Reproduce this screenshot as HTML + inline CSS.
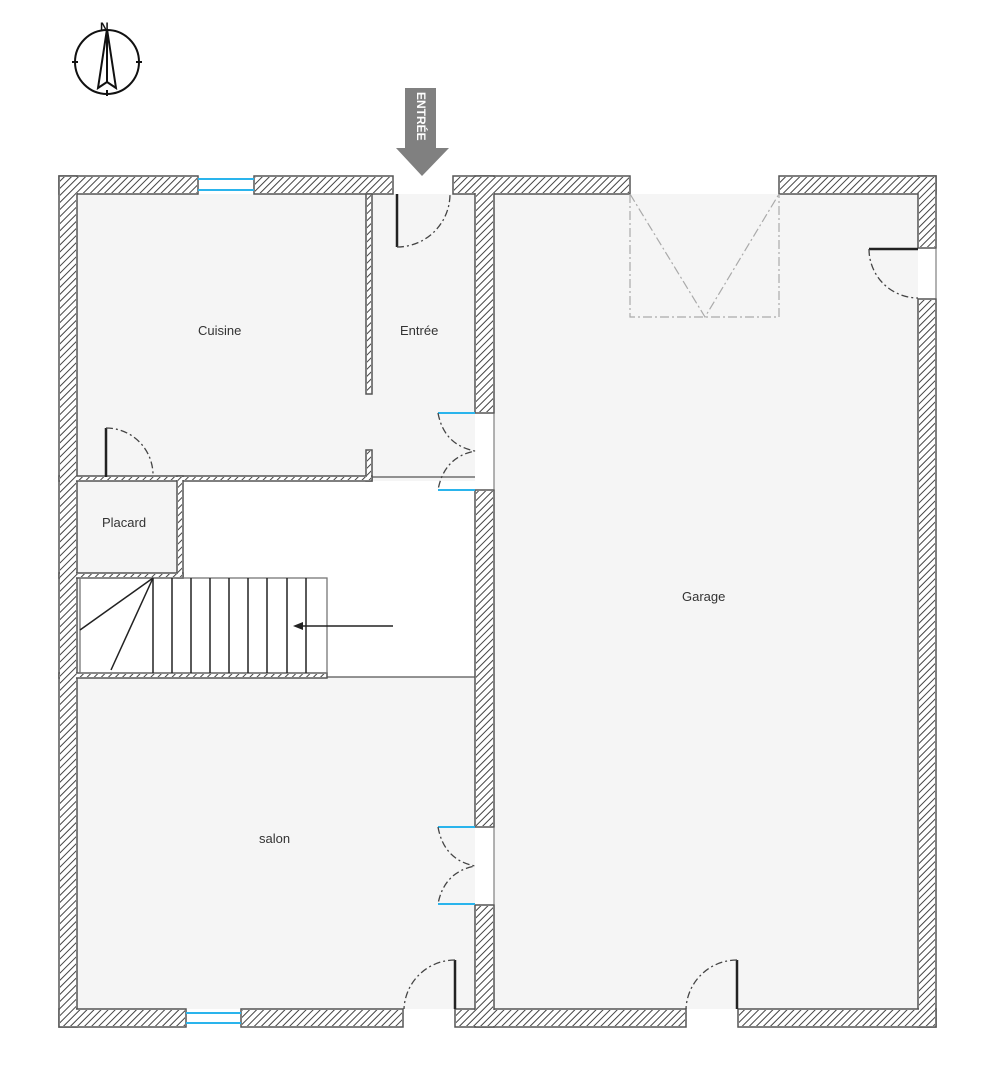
<!DOCTYPE html>
<html><head><meta charset="utf-8"><style>
html,body{margin:0;padding:0;background:#fff;}
svg{display:block;}
text{font-family:"Liberation Sans",sans-serif;font-size:13px;fill:#333;}
</style></head><body>
<svg width="1002" height="1080" viewBox="0 0 1002 1080" xmlns="http://www.w3.org/2000/svg">
<defs>
<pattern id="h" patternUnits="userSpaceOnUse" width="5" height="5" patternTransform="rotate(45)">
<rect width="5" height="5" fill="#fff"/>
<line x1="0" y1="0" x2="0" y2="5" stroke="#444" stroke-width="2"/>
</pattern>
<g id="walls">
<rect x="59" y="176" width="139" height="18"/>
<rect x="254" y="176" width="139" height="18"/>
<rect x="453" y="176" width="177" height="18"/>
<rect x="779" y="176" width="157" height="18"/>
<rect x="59" y="176" width="18" height="851"/>
<rect x="918" y="176" width="18" height="72"/>
<rect x="918" y="299" width="18" height="728"/>
<rect x="59" y="1009" width="127" height="18"/>
<rect x="241" y="1009" width="162" height="18"/>
<rect x="455" y="1009" width="231" height="18"/>
<rect x="738" y="1009" width="198" height="18"/>
<rect x="475" y="176" width="19" height="237"/>
<rect x="475" y="490" width="19" height="337"/>
<rect x="475" y="905" width="19" height="122"/>
<rect x="366" y="194" width="6" height="200"/>
<rect x="366" y="450" width="6" height="31"/>
<rect x="59" y="476" width="313" height="5"/>
<rect x="177" y="476" width="6" height="102"/>
<rect x="59" y="573" width="124" height="5"/>
<rect x="59" y="673" width="268" height="5"/>
</g>
</defs>
<!-- floors -->
<rect x="77" y="194" width="398" height="815" fill="#f5f5f5"/>
<rect x="494" y="194" width="424" height="815" fill="#f5f5f5"/>
<rect x="183" y="481" width="292" height="196" fill="#fff"/>
<rect x="80" y="578" width="247" height="95" fill="#fff"/>

<use href="#walls" stroke="#555" stroke-width="1.5" fill="#fff"/>
<g fill="url(#h)">
<rect x="60" y="177" width="137" height="16"/>
<rect x="255" y="177" width="137" height="16"/>
<rect x="454" y="177" width="175" height="16"/>
<rect x="780" y="177" width="155" height="16"/>
<rect x="60" y="177" width="16" height="849"/>
<rect x="919" y="177" width="16" height="70"/>
<rect x="919" y="300" width="16" height="726"/>
<rect x="60" y="1010" width="125" height="16"/>
<rect x="242" y="1010" width="160" height="16"/>
<rect x="456" y="1010" width="229" height="16"/>
<rect x="739" y="1010" width="196" height="16"/>
<rect x="476" y="177" width="17" height="235"/>
<rect x="476" y="491" width="17" height="335"/>
<rect x="476" y="906" width="17" height="120"/>
<rect x="367" y="195" width="4" height="198"/>
<rect x="367" y="451" width="4" height="29"/>
<rect x="60" y="477" width="311" height="3"/>
<rect x="178" y="477" width="4" height="100"/>
<rect x="60" y="574" width="122" height="3"/>
<rect x="60" y="674" width="266" height="3"/>
</g>
<!-- door openings white -->
<rect x="394" y="177" width="58" height="17" fill="#fff"/>
<rect x="631" y="177" width="147" height="17" fill="#fff"/>
<rect x="476" y="414" width="17" height="75" fill="#fff"/>
<rect x="476" y="828" width="17" height="76" fill="#fff"/>
<rect x="919" y="249" width="17" height="49" fill="#fff"/>
<rect x="404" y="1010" width="50" height="17" fill="#fff"/>
<rect x="687" y="1010" width="50" height="17" fill="#fff"/>
<g stroke="#666" stroke-width="1" fill="none">
<line x1="494" y1="413" x2="494" y2="490"/>
<line x1="494" y1="827" x2="494" y2="905"/>
<line x1="936" y1="248" x2="936" y2="299"/>
</g>
<!-- windows -->
<g stroke="#2ab4ec" stroke-width="2">
<line x1="198" y1="179" x2="254" y2="179"/>
<line x1="198" y1="190" x2="254" y2="190"/>
<line x1="186" y1="1013" x2="241" y2="1013"/>
<line x1="186" y1="1023" x2="241" y2="1023"/>
<line x1="438" y1="413" x2="475" y2="413"/>
<line x1="438" y1="490" x2="475" y2="490"/>
<line x1="438" y1="827" x2="475" y2="827"/>
<line x1="438" y1="904" x2="475" y2="904"/>
</g>
<!-- thin lines -->
<g stroke="#555" stroke-width="1.3" fill="none">
<line x1="372" y1="477" x2="475" y2="477"/>
<line x1="327" y1="677" x2="475" y2="677"/>
<rect x="80" y="578" width="247" height="95" stroke="#777"/>
</g>
<!-- stairs -->
<g stroke="#222" stroke-width="1.5">
<line x1="153" y1="578" x2="153" y2="673"/>
<line x1="172" y1="578" x2="172" y2="673"/>
<line x1="191" y1="578" x2="191" y2="673"/>
<line x1="210" y1="578" x2="210" y2="673"/>
<line x1="229" y1="578" x2="229" y2="673"/>
<line x1="248" y1="578" x2="248" y2="673"/>
<line x1="267" y1="578" x2="267" y2="673"/>
<line x1="287" y1="578" x2="287" y2="673"/>
<line x1="306" y1="578" x2="306" y2="673"/>
<line x1="153" y1="578" x2="80" y2="630"/>
<line x1="153" y1="578" x2="111" y2="670"/>
<line x1="393" y1="626" x2="300" y2="626"/>
</g>
<polygon points="293,626 303,622 303,630" fill="#222"/>
<!-- door leaves -->
<g stroke="#222" stroke-width="2.5" fill="none">
<line x1="397" y1="194" x2="397" y2="247"/>
<line x1="106" y1="428" x2="106" y2="477"/>
<line x1="869" y1="249" x2="918" y2="249"/>
<line x1="455" y1="960" x2="455" y2="1009"/>
<line x1="737" y1="960" x2="737" y2="1009"/>
</g>
<!-- arcs -->
<g stroke="#444" stroke-width="1.3" fill="none" stroke-dasharray="7,3,2,3">
<path d="M397,247 A53,53 0 0 0 450,194"/>
<path d="M106,428 A47,47 0 0 1 153,476"/>
<path d="M869,249 A49,49 0 0 0 918,298"/>
<path d="M455,960 A51,51 0 0 0 404,1009"/>
<path d="M737,960 A51,51 0 0 0 686,1009"/>
<path d="M438,413 Q444,445 475,451 Q444,457 438,490"/>
<path d="M438,827 Q444,860 475,866 Q444,872 438,904"/>
</g>
<!-- garage door dash -->
<g stroke="#aaa" stroke-width="1.2" fill="none" stroke-dasharray="9,3,2,3">
<path d="M630,194 L630,317 L779,317 L779,194"/>
<path d="M630,194 L705,317 L779,194"/>
</g>
<!-- labels -->
<text x="198" y="335">Cuisine</text>
<text x="400" y="335">Entrée</text>
<text x="102" y="527">Placard</text>
<text x="682" y="601">Garage</text>
<text x="259" y="843">salon</text>
<!-- ENTREE arrow -->
<polygon points="405,88 436,88 436,148 449,148 422,176 396,148 405,148" fill="#808080"/>
<text transform="translate(417,92) rotate(90)" style="font-size:12px;font-weight:bold;fill:#fff;">ENTRÉE</text>
<!-- compass -->
<g stroke="#111" stroke-width="2" fill="none">
<circle cx="107" cy="62" r="32"/>
<line x1="72" y1="62" x2="78" y2="62"/>
<line x1="136" y1="62" x2="142" y2="62"/>
<path d="M107,29 L98,88 L107,82 L116,88 Z"/>
<line x1="107" y1="29" x2="107" y2="82"/>
<line x1="107" y1="90" x2="107" y2="96"/>
</g>
<text x="100" y="31" style="font-size:12px;font-weight:bold;fill:#111;">N</text>
</svg>
</body></html>
